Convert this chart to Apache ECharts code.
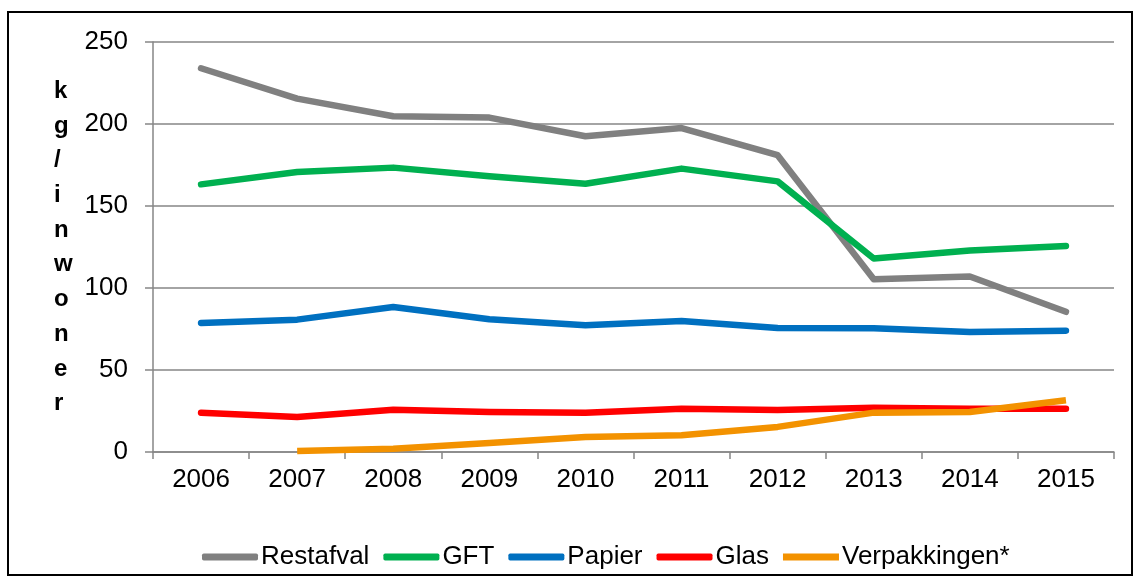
<!DOCTYPE html>
<html>
<head>
<meta charset="utf-8">
<script src="https://cdn.jsdelivr.net/npm/echarts@6/dist/echarts.min.js"></script>
<style>
html,body{margin:0;padding:0;background:#fff;}
#chart{width:1134px;height:577px;}
</style>
</head>
<body>
<div id="chart"></div>
<script>
const years = ['2006','2007','2008','2009','2010','2011','2012','2013','2014','2015'];
const restafval = [234, 215.5, 204.7, 203.9, 192.5, 197.5, 181, 105.3, 107, 85.5];
const gft = [163.2, 170.7, 173.4, 168.1, 163.6, 172.8, 165, 118, 122.8, 125.6];
const papier = [78.7, 80.7, 88.4, 81, 77.3, 79.9, 75.6, 75.4, 73.2, 74];
const glas = [24, 21.4, 25.8, 24.4, 24, 26.4, 25.6, 27, 26.4, 26.4];
const verpakkingen = [null, 0.6, 2, 5.5, 9.1, 10.2, 15.3, 24, 24.4, 31.5];
const seriesNames = ['Restafval', 'GFT', 'Papier', 'Glas', 'Verpakkingen*'];
const seriesColors = ['#808080', '#00B050', '#0070C0', '#FF0000', '#F39200'];
const seriesData = [restafval, gft, papier, glas, verpakkingen];
const yTitle = 'kg/inwoner';

const chart = echarts.init(document.getElementById('chart'), null, {renderer: 'canvas'});
const FONT = '"Liberation Sans", Arial, sans-serif';

const option = {
  animation: false,
  backgroundColor: '#ffffff',
  grid: {left: 153, right: 20, top: 42, bottom: 125, containLabel: false},
  xAxis: {
    type: 'category',
    data: years,
    boundaryGap: true,
    axisLine: {show: true, lineStyle: {color: '#868686', width: 1.5}},
    axisTick: {show: true, inside: false, length: 7, alignWithLabel: false, lineStyle: {color: '#868686', width: 1.5}},
    axisLabel: {color: '#000', fontSize: 26, fontFamily: FONT, margin: 15},
    splitLine: {show: false}
  },
  yAxis: {
    type: 'value',
    min: 0, max: 250, interval: 50,
    axisLine: {show: true, lineStyle: {color: '#868686', width: 1.5}},
    axisTick: {show: true, length: 8, lineStyle: {color: '#868686', width: 1.5}},
    axisLabel: {color: '#000', fontSize: 26, fontFamily: FONT, margin: 25},
    splitLine: {show: true, lineStyle: {color: '#868686', width: 1.5}}
  },
  legend: {
    left: 197,
    top: 539,
    itemWidth: 56,
    itemHeight: 7,
    itemGap: 14,
    textStyle: {color: '#000', fontSize: 26, fontFamily: FONT, padding: [0,0,0,-2]},
    data: seriesNames.map((n, i) => ({name: n, icon: i === 4 ? 'rect' : 'roundRect'}))
  },
  graphic: [
    {
      type: 'rect',
      shape: {x: 8, y: 12, width: 1124, height: 563},
      style: {fill: 'none', stroke: '#000', lineWidth: 2},
      silent: true, z: -1
    },
    {
      type: 'text',
      left: 54, top: 74,
      style: {
        text: yTitle.split('').join('\n'),
        font: 'bold 24px ' + FONT,
        fill: '#000',
        lineHeight: 34.7,
        align: 'center',
        width: 26
      }
    }
  ],
  series: seriesNames.map((n, i) => ({
    name: n,
    type: 'line',
    data: seriesData[i],
    showSymbol: false,
    symbol: 'none',
    color: seriesColors[i],
    lineStyle: {color: seriesColors[i], width: 6.5, cap: i === 4 ? 'butt' : 'round', join: 'round'},
    connectNulls: false
  }))
};
chart.setOption(option);
</script>
</body>
</html>
